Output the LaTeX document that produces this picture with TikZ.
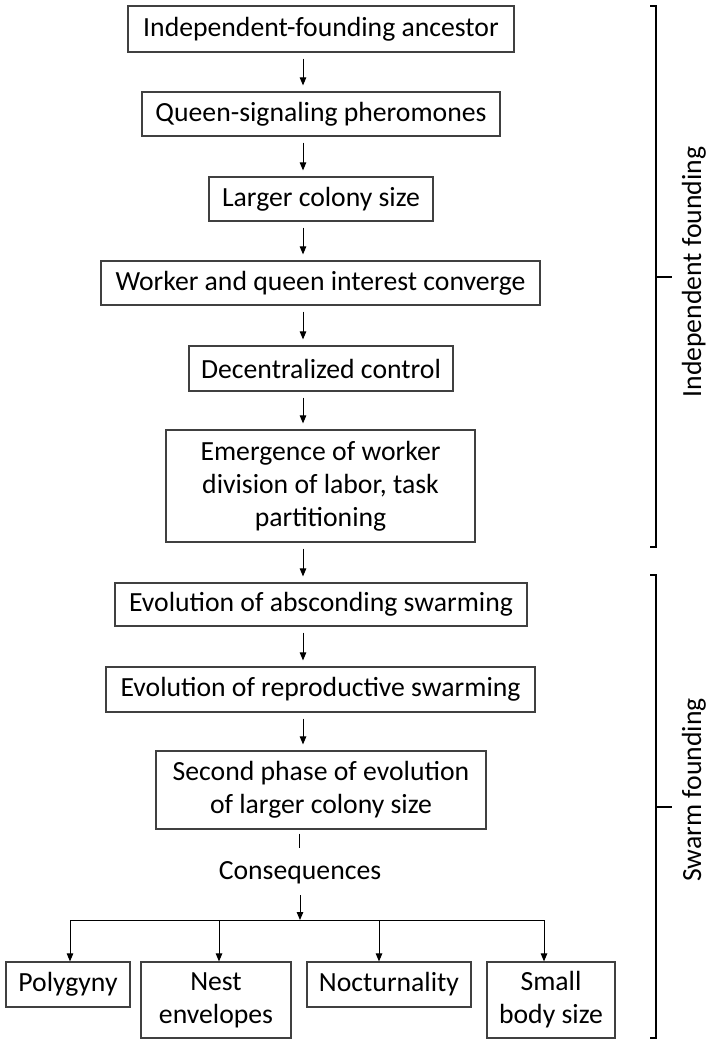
\documentclass[tikz,border=0pt]{standalone}
\usepackage{fontspec}
\setmainfont{Carlito}
\usetikzlibrary{arrows.meta,calc}
\begin{document}
\begin{tikzpicture}[x=1pt,y=-1pt,
  box/.style={draw=black!75,line width=1.2pt,inner sep=0pt,align=center,
    font=\fontsize{27.7}{33}\selectfont,text=black},
  arr/.style={line width=1pt,-{Triangle[length=8pt,width=6.5pt]}},
  plain/.style={line width=1pt},
  brk/.style={line width=1.3pt},
  lbl/.style={font=\fontsize{27.7}{33}\selectfont,text=black,inner sep=0pt}]
\useasboundingbox (0,0) rectangle (709,1040);
% main column
\node[box,minimum width=386pt,minimum height=46pt] (b1) at (321,29) {Independent-founding ancestor};
\node[box,minimum width=358pt,minimum height=44pt] (b2) at (321,114) {Queen-signaling pheromones};
\node[box,minimum width=224pt,minimum height=44pt] (b3) at (321,199) {Larger colony size};
\node[box,minimum width=439pt,minimum height=44pt] (b4) at (320.5,283) {Worker and queen interest converge};
\node[box,minimum width=264pt,minimum height=45pt] (b5) at (321,368.5) {Decentralized control};
\node[box,minimum width=309pt,minimum height=112pt] (b6) at (320.5,486) {Emergence of worker\\division of labor, task\\partitioning};
\node[box,minimum width=412pt,minimum height=43pt] (b7) at (321,604.5) {Evolution of absconding swarming};
\node[box,minimum width=429pt,minimum height=45pt] (b8) at (320.5,689.5) {Evolution of reproductive swarming};
\node[box,minimum width=330pt,minimum height=78pt] (b9) at (321,790) {Second phase of evolution\\of larger colony size};
\node[lbl,text height=20pt,text depth=6pt] (cons) at (300,872) {Consequences};
% bottom row
\node[box,minimum width=124pt,minimum height=45pt] (p1) at (68,984.5) {Polygyny};
\node[box,minimum width=150pt,minimum height=76pt] (p2) at (216,1000) {Nest\\envelopes};
\node[box,minimum width=164pt,minimum height=45pt] (p3) at (389,984.5) {Nocturnality};
\node[box,minimum width=128pt,minimum height=76pt] (p4) at (551,1000) {Small\\body size};
% arrow column
\coordinate (ax) at (303,0);
\coordinate (cx) at (300,0);
\foreach \a/\b in {b1/b2,b2/b3,b3/b4,b4/b5,b5/b6,b6/b7,b7/b8,b8/b9}
  \draw[arr,shorten <=6pt,shorten >=6pt] (\a.south -| ax) -- (\b.north -| ax);
\draw[plain,shorten <=4pt,shorten >=11pt] (b9.south -| 299,0) -- (cons.north -| 299,0);
\coordinate (j) at (300,920);
\coordinate (jl) at (70,920);
\coordinate (jr) at (544,920);
\draw[arr,shorten <=10pt] (cons.south -| cx) -- (j);
\draw[plain] (jl) -- (jr);
\draw[arr] (jl) -- (p1.north -| jl);
\draw[arr] (219,920) coordinate (j2) -- (p2.north -| j2);
\draw[arr] (379,920) coordinate (j3) -- (p3.north -| j3);
\draw[arr] (jr) -- (p4.north -| jr);
% brackets
\draw[brk] (650,6) -- (656,6) -- (656,547) -- (650,547);
\draw[brk] (656,277) -- (672,277);
\draw[brk] (650,575) -- (656,575) -- (656,1038) -- (650,1038);
\draw[brk] (656,807) -- (672,807);
\node[lbl,rotate=90] (lab1) at (694,272) {Independent founding};
\node[lbl,rotate=90] (lab2) at (694,790) {Swarm founding};
\end{tikzpicture}
\end{document}
